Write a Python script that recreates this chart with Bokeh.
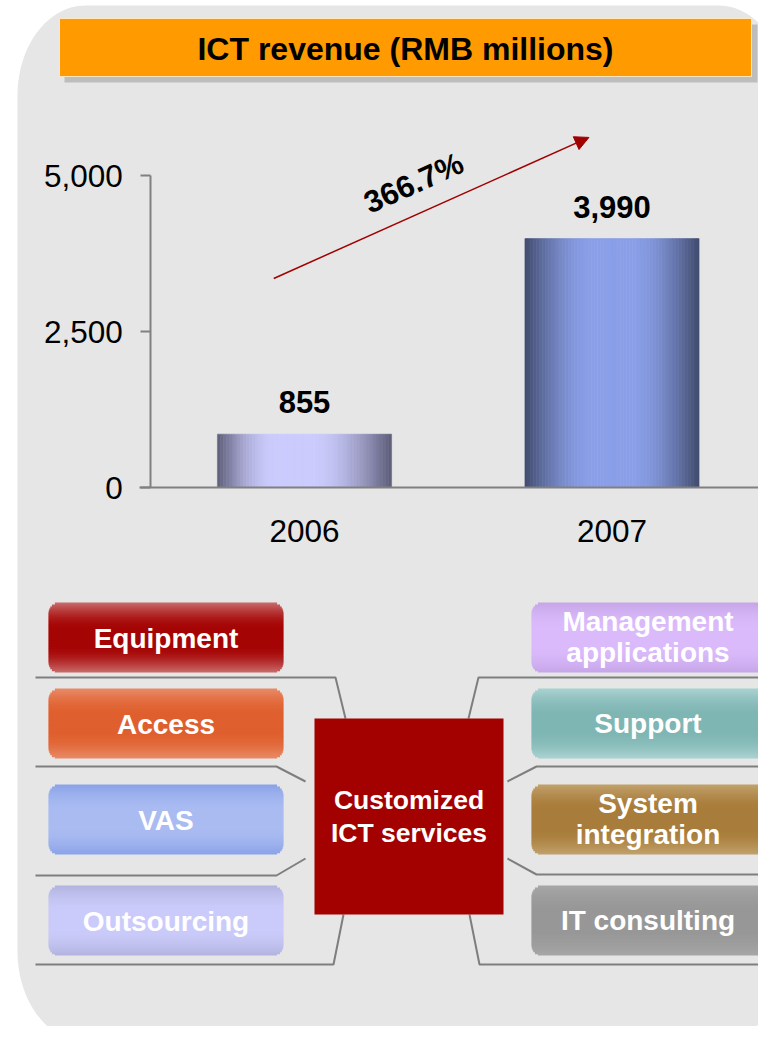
import numpy as np
from bokeh.plotting import figure
from bokeh.models import (Range1d, LinearAxis, FixedTicker, Arrow, NormalHead,
                          Label, ColumnDataSource)
from bokeh.core.properties import value
from bokeh.embed import file_html
from bokeh.resources import INLINE

# ---------------- data ----------------
years = [2006, 2007]
revenue = [855, 3990]
y_ticks = [0, 2500, 5000]
y_tick_labels = ["0", "2,500", "5,000"]
x_tick_labels = ["2006", "2007"]
bar_edge_colors = ["#5e5e7a", "#414b6e"]
bar_mid_colors = ["#cbcbfd", "#8a9fe8"]
bar_peaks = [0.42, 0.5]
title_text = "ICT revenue (RMB millions)"
center_label = "Customized\nICT services"
left_items = ["Equipment", "Access", "VAS", "Outsourcing"]
left_edge_colors = ["#c96c6c", "#e98b68", "#8aa2e8", "#b3b3df"]
left_mid_colors = ["#a50404", "#df5f2e", "#a9bbf1", "#cbcbfb"]
right_items = ["Management\napplications", "Support", "System\nintegration", "IT consulting"]
right_edge_colors = ["#c6a6e8", "#aad3d1", "#c2a26d", "#a7a7a7"]
right_mid_colors = ["#dbbafb", "#7fb6b4", "#a87c3a", "#979797"]

growth = revenue[1] / revenue[0] - 1
growth_label = f"{growth * 100:.1f}%"

# ---------------- layout constants ----------------
FONT = value("Liberation Sans")
W, H = 758, 1026
PX_PER_YEAR = 307.5
YEAR0_PX = 304
PX_PER_VAL = 312 / 5000
ZERO_PX = 487
BAR_W = 0.566

p = figure(width=W, height=H, x_range=Range1d(0, W), y_range=Range1d(H, 0),
           output_backend="svg", toolbar_location=None, min_border=0,
           x_axis_location=None, y_axis_location=None, title=None)
p.grid.visible = False
p.outline_line_color = None
p.background_fill_color = "white"
p.border_fill_color = "white"
p.extra_x_ranges = {"yr": Range1d(years[0] - YEAR0_PX / PX_PER_YEAR,
                                  years[0] + (W - YEAR0_PX) / PX_PER_YEAR)}
p.extra_y_ranges = {"val": Range1d((ZERO_PX - H) / PX_PER_VAL, ZERO_PX / PX_PER_VAL)}

# ---------------- grey rounded panel ----------------
def rounded_path(x0, x1, y0, y1, rx, ry, n=30):
    xs, ys = [], []
    corners = [(x0 + rx, y0 + ry, np.pi, 1.5 * np.pi),
               (x1 - rx, y0 + ry, 1.5 * np.pi, 2 * np.pi),
               (x1 - rx, y1 - ry, 0, 0.5 * np.pi),
               (x0 + rx, y1 - ry, 0.5 * np.pi, np.pi)]
    for cx, cy, a0, a1 in corners:
        a = np.linspace(a0, a1, n)
        xs.extend(cx + rx * np.cos(a))
        ys.extend(cy + ry * np.sin(a))
    return xs, ys

px, py = rounded_path(17, 786, 5, 1041, 68, 90)
p.patch(px, py, fill_color="#e5e6e5", line_color=None)

# ---------------- title box ----------------
p.quad(left=64, right=757, top=24, bottom=82, fill_color="#bdbdbd", line_color=None)
p.quad(left=59, right=751, top=18, bottom=76, fill_color="#ff9a00",
       line_color="#ffe6c0", line_width=1)
p.text(x=[405], y=[48], text=[title_text], text_font=FONT, text_font_style="bold",
       text_font_size="32px", text_align="center", text_baseline="middle",
       text_color="black")

# ---------------- gradient bars ----------------
def mix(c1, c2, f):
    a = np.array([int(c1[i:i + 2], 16) for i in (1, 3, 5)], float)
    b = np.array([int(c2[i:i + 2], 16) for i in (1, 3, 5)], float)
    c = a + (b - a) * f
    return "#%02x%02x%02x" % tuple(int(round(v)) for v in c)

N = 60
for yr, v, ce, cm, pk in zip(years, revenue, bar_edge_colors, bar_mid_colors, bar_peaks):
    edges = np.linspace(-BAR_W / 2, BAR_W / 2, N + 1)
    centers = (edges[:-1] + edges[1:]) / 2
    t = (centers + BAR_W / 2) / BAR_W
    f = np.where(t < pk, t / pk, (1 - t) / (1 - pk))
    f = np.clip(f * 1.25, 0, 1)
    f = np.sin(f * np.pi / 2)
    cols = [mix(ce, cm, fi) for fi in f]
    src = ColumnDataSource(dict(x=yr + centers, top=[v] * N, color=cols))
    p.vbar(x="x", top="top", bottom=0, width=BAR_W / N * 1.05, source=src,
           fill_color="color", line_color="color", line_width=0.5,
           x_range_name="yr", y_range_name="val")

# value labels
p.text(x=years, y=revenue, text=[f"{v:,}" for v in revenue], x_range_name="yr",
       y_range_name="val", text_font=FONT, text_font_style="bold",
       text_font_size="31px", text_align="center", text_baseline="middle",
       y_offset=-32, text_color="black")

# axes
yaxis = LinearAxis(x_range_name="yr", y_range_name="val", fixed_location=years[0] - 0.5,
                   ticker=FixedTicker(ticks=y_ticks), bounds=(y_ticks[0], y_ticks[-1]))
yaxis.major_label_overrides = {t: l for t, l in zip(y_ticks, y_tick_labels)}
xaxis = LinearAxis(x_range_name="yr", y_range_name="val", fixed_location=0,
                   ticker=FixedTicker(ticks=years),
                   bounds=(years[0] - 0.535, years[-1] + 0.5))
xaxis.major_label_overrides = {t: l for t, l in zip(years, x_tick_labels)}
for ax in (yaxis, xaxis):
    ax.axis_line_color = "#808080"
    ax.axis_line_width = 2
    ax.major_tick_line_color = "#808080"
    ax.major_tick_line_width = 2
    ax.minor_tick_line_color = None
    ax.major_label_text_font = "Liberation Sans"
    ax.major_label_text_font_size = "31.5px"
    ax.major_label_text_color = "black"
yaxis.major_tick_out = 10
yaxis.major_tick_in = 0
yaxis.major_label_standoff = 18
xaxis.major_tick_out = 0
xaxis.major_tick_in = 0
xaxis.major_label_standoff = 32
p.add_layout(yaxis, "left")
p.add_layout(xaxis, "below")

# growth arrow
p.add_layout(Arrow(x_start=2005.9, y_start=3350, x_end=2006.925, y_end=5610,
                   x_range_name="yr", y_range_name="val",
                   line_color="#a00000", line_width=1.5,
                   end=NormalHead(size=14, fill_color="#a00000", line_color="#a00000")))
p.add_layout(Label(x=2006.355, y=4880, text=growth_label, x_range_name="yr",
                   y_range_name="val", angle=24.1, angle_units="deg",
                   text_font="Liberation Sans", text_font_style="bold",
                   text_font_size="31px", text_align="center", text_baseline="middle",
                   text_color="black"))

# ---------------- diagram ----------------
def grad_box(x0, x1, y0, y1, ce, cm, r=11, K=35):
    hh = (y1 - y0) / K
    lefts, rights, tops, bottoms, cols = [], [], [], [], []
    for k in range(K):
        ya = y0 + k * hh
        yb = ya + hh
        yc = (ya + yb) / 2
        d = min(yc - y0, y1 - yc)
        inset = 0.0
        if d < r:
            inset = r - np.sqrt(max(r * r - (r - d) ** 2, 0))
        tt = (yc - y0) / (y1 - y0)
        f = 1 - abs(tt - 0.5) * 2
        f = np.sin(np.clip(f * 1.3, 0, 1) * np.pi / 2)
        lefts.append(x0 + inset); rights.append(x1 - inset)
        tops.append(ya); bottoms.append(min(yb + 0.8, y1) if k < K - 1 else yb)
        cols.append(mix(ce, cm, f))
    src = ColumnDataSource(dict(l=lefts, r=rights, t=tops, b=bottoms, c=cols))
    p.quad(left="l", right="r", top="t", bottom="b", source=src,
           fill_color="c", line_color=None)

ROW_TOPS = [602, 688, 784, 885]
BOX_H = 70
LEFT_X = (48, 283)
RIGHT_X = (531, 764)

for i, (lab, ce, cm) in enumerate(zip(left_items, left_edge_colors, left_mid_colors)):
    y0 = ROW_TOPS[i]
    grad_box(LEFT_X[0], LEFT_X[1], y0, y0 + BOX_H, ce, cm)
for i, (lab, ce, cm) in enumerate(zip(right_items, right_edge_colors, right_mid_colors)):
    y0 = ROW_TOPS[i]
    grad_box(RIGHT_X[0], RIGHT_X[1], y0, y0 + BOX_H, ce, cm)

cy = [t + BOX_H / 2 + 1 for t in ROW_TOPS]
p.text(x=[(LEFT_X[0] + LEFT_X[1]) / 2] * 4, y=cy, text=left_items, text_font=FONT,
       text_font_style="bold", text_font_size="28px", text_align="center",
       text_baseline="middle", text_color="white")
p.text(x=[(RIGHT_X[0] + RIGHT_X[1]) / 2] * 4, y=[c - 1.5 for c in cy], text=right_items,
       text_font=FONT, text_font_style="bold", text_font_size="28px", text_align="center",
       text_baseline="middle", text_color="white", text_line_height=1.0)

# connector lines
left_lines_x = [[35, 335, 345], [35, 276, 305], [35, 276, 305], [35, 333, 343]]
left_lines_y = [[677, 677, 718], [766, 766, 781], [875, 875, 858], [964, 964, 914]]
right_lines_x = [[468, 478, 770], [507, 536, 770], [507, 536, 770], [469, 479, 770]]
right_lines_y = [[718, 677, 677], [781, 766, 766], [858, 874, 874], [914, 964, 964]]
p.multi_line(xs=left_lines_x + right_lines_x, ys=left_lines_y + right_lines_y,
             line_color="#7e7e7e", line_width=2)

# center box
p.quad(left=314, right=503, top=718, bottom=914, fill_color="#a30000", line_color=None)
p.text(x=[408.5], y=[816], text=[center_label], text_font=FONT, text_font_style="bold",
       text_font_size="26.5px", text_align="center", text_baseline="middle",
       text_color="white", text_line_height=1.12)

open("out.html", "w").write(file_html(p, INLINE))
